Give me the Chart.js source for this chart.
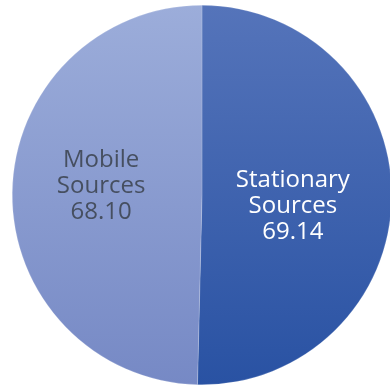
<!DOCTYPE html>
<html>
<head>
<meta charset="utf-8">
<script src="https://cdn.jsdelivr.net/npm/chart.js@4"></script>
<style>
  html, body { margin: 0; padding: 0; background: #fff; overflow: hidden; }
  .chart-container { position: absolute; left: 0; top: 0; width: 404px; height: 392px; }
</style>
</head>
<body>
<div class="chart-container">
  <canvas id="myChart" width="404" height="392"></canvas>
</div>
<script>
const labels = ['Stationary Sources', 'Mobile Sources'];
const values = [69.14, 68.10];
const topColors = ['#5574ba', '#9cadda'];
const bottomColors = ['#2952a3', '#7689c5'];
const textColors = ['#ffffff', '#464f60'];

const sliceLabels = {
  id: 'sliceLabels',
  afterDatasetsDraw(chart) {
    const ctx = chart.ctx;
    const meta = chart.getDatasetMeta(0);
    ctx.save();
    ctx.font = '24px "Open Sans", sans-serif';
    ctx.textAlign = 'center';
    ctx.textBaseline = 'middle';
    meta.data.forEach((arc, i) => {
      const mid = (arc.startAngle + arc.endAngle) / 2;
      const r = arc.outerRadius * 0.5;
      const x = arc.x + Math.cos(mid) * r - (i === 0 ? 4 : 6);
      const y = arc.y + Math.sin(mid) * r + (i === 0 ? 10 : -8);
      const words = labels[i].split(' ');
      const lines = [words[0], words[1], values[i].toFixed(2)];
      ctx.fillStyle = textColors[i];
      lines.forEach((t, k) => ctx.fillText(t, x, y + (k - 1) * 26));
    });
    ctx.restore();
  }
};

const canvas = document.getElementById('myChart');
const ctx = canvas.getContext('2d');
new Chart(ctx, {
  type: 'pie',
  data: {
    labels: labels,
    datasets: [{
      data: values,
      backgroundColor: (c) => {
        const area = c.chart.chartArea;
        if (!area) return topColors[c.dataIndex];
        const g = c.chart.ctx.createLinearGradient(0, area.top, 0, area.bottom);
        g.addColorStop(0, topColors[c.dataIndex]);
        g.addColorStop(1, bottomColors[c.dataIndex]);
        return g;
      },
      borderColor: 'rgba(255,255,255,0.35)',
      borderWidth: 0.5
    }]
  },
  options: {
    responsive: false,
    animation: false,
    layout: { padding: { top: 5, bottom: 7, left: 0, right: 0 } },
    plugins: { legend: { display: false }, tooltip: { enabled: false } }
  },
  plugins: [sliceLabels]
});
</script>
</body>
</html>
